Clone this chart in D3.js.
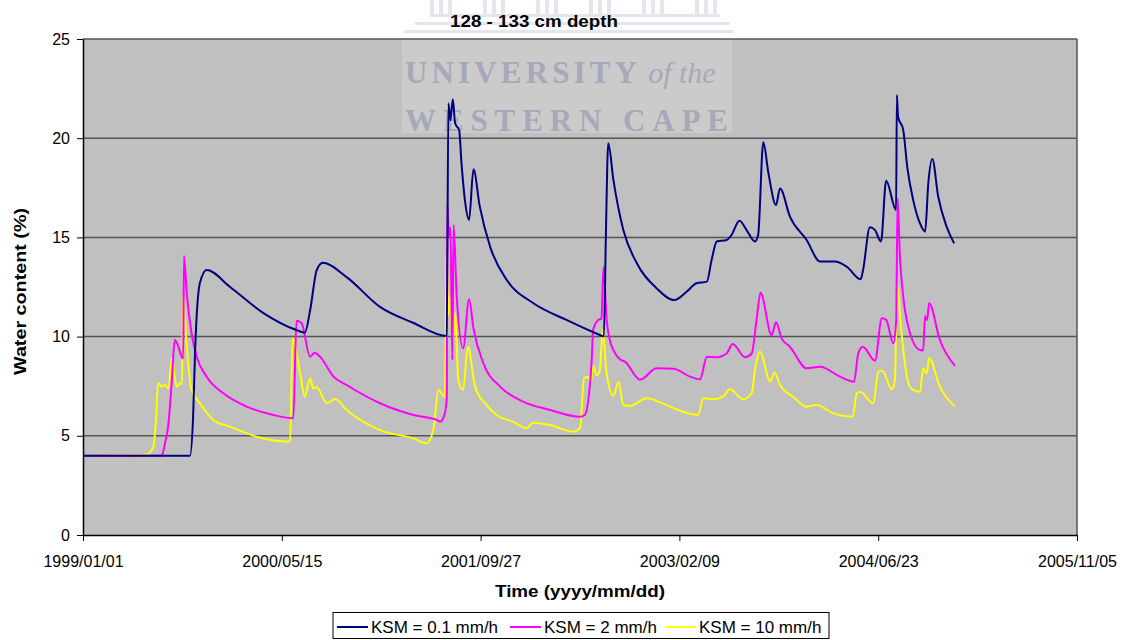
<!DOCTYPE html>
<html>
<head>
<meta charset="utf-8">
<script src="https://cdn.jsdelivr.net/npm/d3@7"></script>
<style>
  body { margin: 0; background: #fff; }
</style>
</head>
<body>
<script>
// tick labels of the date axis (500 day steps)
var xTickLabels = ['1999/01/01', '2000/05/15', '2001/09/27', '2003/02/09', '2004/06/23', '2005/11/05'];
var yTickValues = [0, 5, 10, 15, 20, 25];

// series: [days since 1999/01/01, water content %]
var ksm01 = [[0,4.0],[269,4.0],[277,6.0],[282,9.3],[294,12.7],[311,13.36],[370,12.5],[453,11.2],[537,10.33],[558,10.2],
  [571,11.3],[588,13.36],[603,13.72],[663,13.0],[747,11.5],[830,10.7],[915,10.03],[919,21.76],[924,20.9],[930,21.96],
  [936,20.75],[946,20.41],[952,18.73],[961,16.8],[971,15.88],[982,18.43],[998,16.55],[1024,14.53],[1066,12.85],
  [1133,11.68],[1216,10.84],[1300,10.08],[1310,10.0],[1315,15.0],[1321,19.74],[1334,17.9],[1359,15.37],[1393,13.7],
  [1443,12.43],[1487,11.84],[1518,12.26],[1543,12.69],[1569,12.77],[1581,13.86],[1594,14.79],[1619,14.87],[1631,15.12],
  [1651,15.84],[1669,15.37],[1690,14.79],[1698,15.12],[1711,19.79],[1724,18.23],[1743,16.63],[1753,17.47],[1778,16.05],
  [1820,14.87],[1854,13.78],[1891,13.78],[1921,13.52],[1956,12.89],[1962,13.36],[1979,15.51],[1992,15.37],[2007,14.79],
  [2020,17.86],[2045,16.38],[2047,22.18],[2050,21.08],[2063,20.41],[2073,18.56],[2088,16.88],[2105,15.71],[2118,15.29],
  [2126,17.73],[2136,18.95],[2151,17.05],[2172,15.54],[2191,14.70]];

var ksm2 = [[0,4.0],[198,4.0],[206,4.6],[215,5.63],[223,7.65],[231,9.83],[240,9.49],[248,8.99],[252,8.9],[254,14.06],
  [261,12.18],[273,10.17],[286,8.99],[311,7.98],[353,7.14],[412,6.47],[479,6.05],[529,5.88],[537,10.8],[550,10.67],
  [571,8.99],[583,9.19],[596,8.99],[630,7.98],[663,7.56],[747,6.64],[831,6.05],[890,5.8],[898,5.71],[910,6.13],
  [915,6.89],[916,16.67],[921,15.04],[924,15.5],[929,8.82],[932,15.62],[940,12.01],[956,9.41],[971,11.88],[982,10.42],
  [1007,8.65],[1049,7.48],[1107,6.72],[1175,6.3],[1250,5.96],[1262,6.05],[1279,8.65],[1283,10.33],[1296,10.84],
  [1304,10.9],[1309,13.52],[1317,10.84],[1325,9.83],[1334,9.32],[1351,8.85],[1363,8.74],[1401,7.83],[1443,8.4],
  [1485,8.38],[1527,7.98],[1552,7.85],[1569,8.99],[1594,8.96],[1619,9.16],[1634,9.63],[1665,8.96],[1682,9.16],
  [1694,10.84],[1704,12.21],[1732,10.08],[1743,10.72],[1757,9.91],[1778,9.49],[1820,8.4],[1854,8.48],[1904,7.98],
  [1939,7.73],[1950,9.16],[1961,9.49],[1992,8.79],[2009,10.92],[2020,10.84],[2038,9.66],[2045,10.75],[2049,16.97],
  [2055,13.86],[2080,10.17],[2105,9.32],[2113,9.3],[2118,11.04],[2123,10.84],[2128,11.68],[2155,9.83],[2193,8.52]];

var ksm10 = [[0,4.0],[160,4.05],[177,4.45],[184,5.96],[189,7.65],[198,7.48],[206,7.56],[215,7.39],[223,8.9],[236,7.48],
  [244,7.65],[249,7.6],[252,12.1],[261,9.49],[273,7.31],[294,6.64],[328,5.8],[370,5.46],[437,4.95],[521,4.7],
  [527,9.91],[546,8.15],[558,6.97],[571,7.9],[579,7.39],[588,7.45],[613,6.64],[634,6.85],[663,6.3],[747,5.29],
  [831,4.87],[864,4.62],[881,5.29],[894,7.31],[910,6.97],[915,14.87],[919,11.09],[923,12.01],[930,9.66],[936,11.2],
  [944,7.81],[956,7.31],[968,9.49],[986,7.48],[1015,6.55],[1040,6.05],[1082,5.71],[1116,5.38],[1133,5.66],
  [1175,5.54],[1233,5.21],[1250,5.38],[1260,7.9],[1271,7.98],[1277,7.65],[1283,8.52],[1292,8.06],[1300,8.3],
  [1307,10.33],[1317,8.15],[1334,7.01],[1347,7.73],[1359,6.55],[1376,6.5],[1418,6.89],[1460,6.62],[1501,6.27],
  [1547,6.05],[1560,6.89],[1585,6.84],[1610,6.97],[1627,7.34],[1661,6.84],[1682,7.17],[1690,8.32],[1703,9.24],
  [1728,7.73],[1739,8.18],[1753,7.56],[1786,6.97],[1820,6.47],[1845,6.55],[1887,6.13],[1936,5.96],[1946,7.14],
  [1954,7.22],[1988,6.64],[2000,8.23],[2011,8.28],[2034,7.34],[2042,7.81],[2048,12.6],[2057,10.5],[2076,7.65],
  [2088,7.31],[2105,7.22],[2113,8.4],[2122,8.15],[2128,8.91],[2155,7.48],[2193,6.47]];

var seriesNames = ['KSM = 0.1 mm/h', 'KSM = 2 mm/h', 'KSM = 10 mm/h'];
var seriesColors = ['#000080', '#ff00ff', '#ffff00'];

var sans = '"Liberation Sans", Arial, sans-serif';
var serif = '"Liberation Serif", "DejaVu Serif", serif';

var width = 1127, height = 640;
var margin = {top: 39, right: 50, bottom: 105, left: 83};
var w = width - margin.left - margin.right;
var h = height - margin.top - margin.bottom;

var parseTick = d3.utcParse('%Y/%m/%d');
var formatTick = d3.utcFormat('%Y/%m/%d');
var tickDates = xTickLabels.map(parseTick);
var start = tickDates[0];

var svg = d3.select('body').append('svg')
  .attr('width', width)
  .attr('height', height)
  .style('font-family', sans);

var xScale = d3.scaleUtc().domain([start, tickDates[tickDates.length - 1]]).range([0, w]);
var yScale = d3.scaleLinear().domain([0, 25]).range([h, 0]);

// watermark top part (building columns), outside the plot
var wmTop = svg.append('g');
for (var i = 0; i < 6; i++) {
  var cx = 430 + i * 53;
  [0, 9, 18].forEach(function(dx) {
    wmTop.append('rect')
      .attr('x', cx + dx).attr('y', 0)
      .attr('width', 4).attr('height', 14)
      .attr('fill', '#e4e6ee');
  });
}
[[430, 14, 290], [415, 22, 315], [404, 30, 330]].forEach(function(s) {
  wmTop.append('rect')
    .attr('x', s[0]).attr('y', s[1])
    .attr('width', s[2]).attr('height', 3)
    .attr('fill', '#e4e6ee');
});

var plot = svg.append('g')
  .attr('transform', 'translate(' + margin.left + ',' + margin.top + ')');

// plot background
plot.append('rect')
  .attr('width', w)
  .attr('height', h)
  .attr('fill', '#c0c0c0');

// watermark text inside the plot, under the lines
var wm = plot.append('g').attr('transform', 'translate(' + (-margin.left) + ',' + (-margin.top) + ')');
wm.append('rect')
  .attr('x', 402).attr('y', margin.top)
  .attr('width', 330).attr('height', 94)
  .attr('fill', '#cbcbcb');
var wm1 = wm.append('text')
  .attr('x', 405).attr('y', 83)
  .style('font-family', serif)
  .attr('font-size', 31)
  .attr('font-weight', 'bold')
  .attr('fill', '#a7a9ba');
wm1.append('tspan')
  .attr('textLength', 232)
  .attr('lengthAdjust', 'spacing')
  .text('UNIVERSITY');
wm1.append('tspan')
  .attr('font-style', 'italic')
  .attr('font-weight', 'normal')
  .attr('font-size', 30)
  .attr('dx', 7)
  .text('of the');
wm.append('text')
  .attr('x', 405).attr('y', 131)
  .style('font-family', serif)
  .attr('font-size', 31)
  .attr('font-weight', 'bold')
  .attr('fill', '#a7a9ba')
  .attr('textLength', 323)
  .attr('lengthAdjust', 'spacing')
  .text('WESTERN CAPE');

// gridlines
plot.selectAll('.grid')
  .data(yTickValues.slice(1))
  .enter().append('line')
  .attr('class', 'grid')
  .attr('x1', 0).attr('x2', w)
  .attr('y1', function(d) { return yScale(d); })
  .attr('y2', function(d) { return yScale(d); })
  .attr('stroke', '#555')
  .attr('stroke-width', 1.5);

// right border
plot.append('line')
  .attr('x1', w).attr('x2', w)
  .attr('y1', 0).attr('y2', h)
  .attr('stroke', '#555')
  .attr('stroke-width', 1.5);

// the series
var line = d3.line()
  .curve(d3.curveMonotoneX)
  .x(function(d) { return xScale(d3.utcDay.offset(start, d[0])); })
  .y(function(d) { return yScale(d[1]); });

var allSeries = [ksm01, ksm2, ksm10];
// yellow first, blue on top
[2, 1, 0].forEach(function(k) {
  plot.append('path')
    .datum(allSeries[k])
    .attr('d', line)
    .attr('fill', 'none')
    .attr('stroke', seriesColors[k])
    .attr('stroke-width', 2);
});

// axes
var xAxis = d3.axisBottom(xScale)
  .tickValues(tickDates)
  .tickFormat(formatTick)
  .tickSize(6)
  .tickSizeOuter(0);
var yAxis = d3.axisLeft(yScale)
  .tickValues(yTickValues)
  .tickSize(6)
  .tickSizeOuter(0);

var gX = plot.append('g')
  .attr('transform', 'translate(0,' + h + ')')
  .call(xAxis);
gX.selectAll('text')
  .attr('font-size', 16)
  .style('font-family', sans)
  .attr('fill', '#000')
  .attr('y', 32)
  .attr('dy', 0);
gX.select('.domain').attr('stroke', '#000').attr('stroke-width', 1.5);
gX.selectAll('.tick line').attr('stroke', '#000');

var gY = plot.append('g').call(yAxis);
gY.selectAll('text')
  .attr('font-size', 16)
  .style('font-family', sans)
  .attr('fill', '#000')
  .attr('x', -13);
gY.select('.domain').attr('stroke', '#000').attr('stroke-width', 1.5);
gY.selectAll('.tick line').attr('stroke', '#000');

// titles
svg.append('text')
  .attr('x', 450).attr('y', 26.5)
  .attr('font-size', 17)
  .attr('font-weight', 'bold')
  .attr('textLength', 168)
  .attr('lengthAdjust', 'spacingAndGlyphs')
  .text('128 - 133 cm depth');

svg.append('text')
  .attr('x', 495).attr('y', 597)
  .attr('font-size', 17)
  .attr('font-weight', 'bold')
  .attr('textLength', 170)
  .attr('lengthAdjust', 'spacingAndGlyphs')
  .text('Time (yyyy/mm/dd)');

svg.append('text')
  .attr('transform', 'translate(26,375) rotate(-90)')
  .attr('font-size', 17)
  .attr('font-weight', 'bold')
  .attr('textLength', 167)
  .attr('lengthAdjust', 'spacingAndGlyphs')
  .text('Water content (%)');

// legend
var legend = svg.append('g').attr('transform', 'translate(333,612.5)');
legend.append('rect')
  .attr('width', 496).attr('height', 26)
  .attr('fill', '#fff')
  .attr('stroke', '#000')
  .attr('stroke-width', 1);
var legendX = [4, 177, 332];
seriesNames.forEach(function(name, k) {
  legend.append('line')
    .attr('x1', legendX[k]).attr('x2', legendX[k] + 31)
    .attr('y1', 14.5).attr('y2', 14.5)
    .attr('stroke', seriesColors[k])
    .attr('stroke-width', 2);
  legend.append('text')
    .attr('x', legendX[k] + 34).attr('y', 20.5)
    .attr('font-size', 17)
    .text(name);
});
</script>
</body>
</html>
